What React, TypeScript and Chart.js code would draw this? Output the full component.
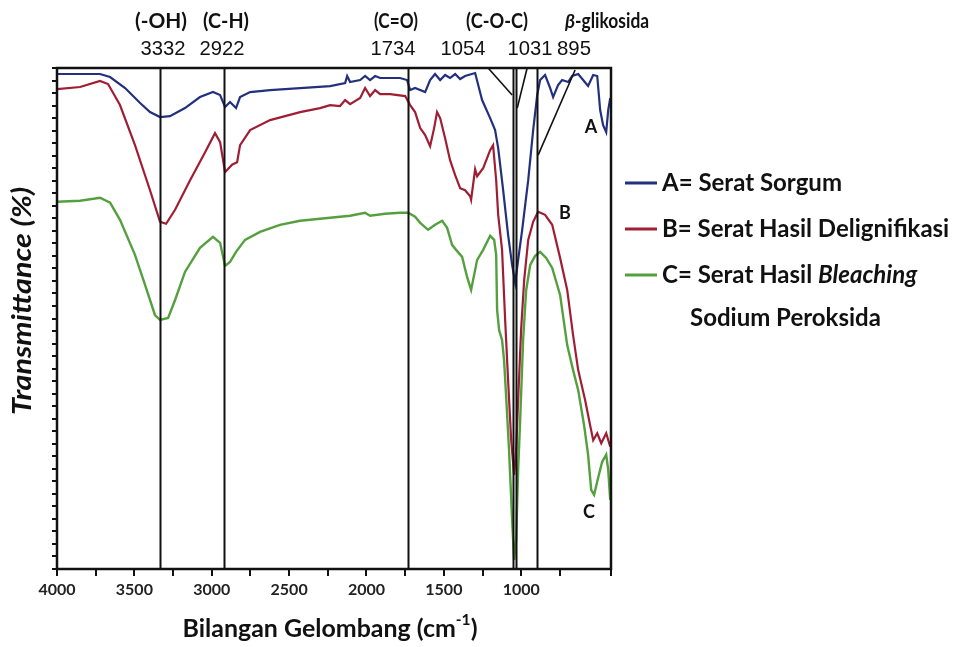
import React, { useEffect, useRef } from "react";
import { Chart, registerables } from "chart.js";

Chart.register(...registerables);

// ---- Data (wavenumber cm-1, transmittance in relative %) ----
const wnA = [4000, 3722, 3657, 3560, 3463, 3399, 3334, 3270, 3173, 3076, 2992, 2946, 2914, 2882, 2843, 2817, 2752, 2623, 2429, 2235, 2138, 2125, 2106, 2041, 2009, 1977, 1944, 1912, 1783, 1738, 1718, 1686, 1621, 1589, 1557, 1524, 1492, 1460, 1427, 1395, 1363, 1298, 1253, 1201, 1169, 1149, 1117, 1085, 1059, 1039, 1020, 994, 955, 923, 897, 878, 846, 813, 794, 762, 736, 697, 671, 632, 600, 568, 535, 509, 490, 471, 451, 438, 425];
const tA = [98.8, 98.8, 98.2, 96.0, 93.0, 91.2, 90.2, 90.4, 92.0, 94.2, 95.2, 94.6, 92.2, 93.2, 92.0, 94.2, 95.2, 95.6, 96.0, 96.4, 97.0, 98.4, 97.2, 97.6, 98.4, 97.6, 98.4, 98.0, 98.0, 97.6, 95.6, 96.0, 95.2, 97.6, 98.8, 97.6, 98.6, 98.0, 98.8, 97.8, 98.4, 99.0, 93.6, 90.0, 87.6, 84.0, 75.6, 66.7, 60.7, 57.1, 61.7, 67.7, 77.6, 87.6, 94.6, 97.6, 98.6, 96.0, 94.2, 96.6, 97.6, 97.2, 98.4, 98.8, 97.6, 96.4, 98.6, 98.4, 91.6, 88.6, 87.2, 91.6, 94.0];

const wnB = [4000, 3851, 3722, 3670, 3593, 3496, 3399, 3334, 3295, 3237, 3140, 3043, 2979, 2946, 2914, 2869, 2836, 2817, 2752, 2623, 2429, 2300, 2235, 2171, 2138, 2106, 2041, 2009, 1977, 1944, 1912, 1847, 1750, 1718, 1686, 1653, 1621, 1589, 1563, 1544, 1524, 1492, 1460, 1427, 1395, 1363, 1330, 1324, 1298, 1285, 1246, 1201, 1182, 1162, 1149, 1124, 1104, 1085, 1065, 1046, 1033, 1020, 1001, 981, 955, 923, 891, 846, 800, 749, 703, 665, 632, 587, 555, 535, 509, 483, 451, 425];
const tB = [95.8, 96.2, 97.4, 96.8, 92.6, 84.6, 75.6, 69.3, 68.9, 71.7, 77.6, 83.2, 87.0, 85.2, 79.2, 80.7, 81.2, 84.6, 87.6, 89.6, 91.2, 92.0, 92.6, 92.4, 93.6, 92.8, 94.0, 96.0, 94.4, 95.6, 94.8, 94.8, 94.4, 92.6, 91.2, 88.0, 86.6, 84.4, 88.0, 91.2, 90.0, 86.0, 81.6, 78.6, 76.0, 75.6, 74.4, 73.7, 79.8, 78.4, 80.0, 83.6, 84.6, 77.6, 70.7, 63.7, 49.7, 37.7, 25.7, 18.8, 23.8, 33.7, 47.7, 57.7, 65.7, 69.3, 71.3, 70.7, 68.7, 62.1, 55.7, 46.7, 39.7, 33.7, 28.7, 25.7, 27.1, 25.1, 27.1, 24.4];

const wnC = [4000, 3851, 3722, 3657, 3593, 3496, 3431, 3367, 3334, 3282, 3237, 3173, 3076, 2992, 2946, 2914, 2882, 2843, 2785, 2688, 2559, 2429, 2235, 2106, 2009, 1977, 1880, 1783, 1731, 1686, 1653, 1602, 1557, 1511, 1479, 1447, 1421, 1382, 1350, 1324, 1285, 1246, 1201, 1175, 1162, 1156, 1143, 1124, 1111, 1098, 1079, 1059, 1046, 1033, 1020, 1007, 988, 968, 942, 910, 878, 839, 800, 749, 703, 665, 632, 594, 568, 548, 529, 503, 477, 451, 438, 425];
const tC = [73.3, 73.5, 74.1, 73.1, 69.7, 62.7, 56.7, 50.7, 49.7, 50.1, 53.7, 59.3, 64.1, 66.3, 65.1, 60.5, 61.3, 63.3, 65.7, 67.3, 68.7, 69.5, 70.1, 70.5, 71.1, 70.5, 70.9, 71.1, 71.1, 70.3, 69.1, 67.7, 68.7, 69.5, 68.1, 64.7, 63.7, 62.3, 58.3, 55.7, 61.7, 63.7, 66.5, 65.7, 62.7, 51.7, 47.7, 45.7, 41.7, 34.7, 23.8, 9.8, 1.8, 5.8, 19.8, 29.7, 45.7, 55.7, 60.7, 62.5, 63.3, 62.1, 60.1, 54.7, 44.7, 39.7, 35.7, 28.7, 22.8, 15.8, 14.8, 18.2, 21.4, 22.8, 19.8, 13.8];

const seriesNames = ["A= Serat Sorgum", "B= Serat Hasil Delignifikasi", "C= Serat Hasil "];
const seriesColors = ["#22307e", "#a01e34", "#55a03e"];
const seriesTags = ["A", "B", "C"];

// Marked absorption bands
const peakLines = [3332, 2922, 1734, 1054, 1031, 895];
const peakNumbers = ["3332", "2922", "1734", "1054", "1031", "895"];
const groupLabels = ["(-OH)", "(C-H)", "(C=O)", "(C-O-C)"];
// pointer lines: [wnFrom, tFrom, wnTo, tTo]
const pointerLines = [
  [1214, 100, 1059, 94.6],
  [962, 100, 1026, 92],
  [652, 99.6, 891, 82.6],
];

const X_MIN = 420;
const X_MAX = 4000;

function fitText(ctx: CanvasRenderingContext2D, text: string, x: number, y: number, font: string, width: number, align: "left" | "center") {
  ctx.save();
  ctx.font = font;
  const w = ctx.measureText(text).width;
  const s = width / w;
  ctx.translate(x, y);
  ctx.scale(s, 1);
  ctx.textAlign = align;
  ctx.textBaseline = "middle";
  ctx.fillText(text, 0, 0);
  ctx.restore();
}

export default function App() {
  const canvasRef = useRef<HTMLCanvasElement | null>(null);

  useEffect(() => {
    const canvas = canvasRef.current;
    if (!canvas) return;

    const toPts = (xs: number[], ys: number[]) => xs.map((x, i) => ({ x, y: ys[i] }));

    const overlay = {
      id: "overlay",
      afterDatasetsDraw(chart: any) {
        const { ctx, chartArea, scales } = chart;
        const xs = scales.x;
        const ys = scales.y;
        ctx.save();
        ctx.strokeStyle = "#111";
        ctx.lineWidth = 2;
        peakLines.forEach((w) => {
          const px = Math.round(xs.getPixelForValue(w)) + 0.5;
          ctx.beginPath();
          ctx.moveTo(px, chartArea.top);
          ctx.lineTo(px, chartArea.bottom);
          ctx.stroke();
        });
        ctx.lineWidth = 1.6;
        pointerLines.forEach(([w1, t1, w2, t2]) => {
          ctx.beginPath();
          ctx.moveTo(xs.getPixelForValue(w1), ys.getPixelForValue(t1));
          ctx.lineTo(xs.getPixelForValue(w2), ys.getPixelForValue(t2));
          ctx.stroke();
        });
        ctx.lineWidth = 2.5;
        ctx.strokeRect(chartArea.left, chartArea.top, chartArea.right - chartArea.left, chartArea.bottom - chartArea.top);
        ctx.restore();
      },
      afterDraw(chart: any) {
        const { ctx, chartArea } = chart;
        ctx.save();
        ctx.fillStyle = "#111";
        ctx.textBaseline = "middle";
        // group labels
        const gx = [161, 226, 396, 497];
        const gw = [52, 46, 44, 62];
        groupLabels.forEach((g, i) => fitText(ctx, g, gx[i], 22, "bold 20px Lato", gw[i], "center"));
        // beta-glikosida
        ctx.textAlign = "left";
        ctx.font = "italic bold 19px Lato";
        ctx.fillText("β", 565, 22);
        const bw = ctx.measureText("β").width;
        fitText(ctx, "-glikosida", 565 + bw, 22, "bold 20px Lato", 74, "left");
        // peak numbers
        const nx = [163, 222, 393, 463, 530, 574];
        peakNumbers.forEach((n, i) => fitText(ctx, n, nx[i], 49, "21px 'Liberation Sans'", n.length === 4 ? 45 : 34, "center"));
        // series tags
        ctx.textAlign = "center";
        ctx.font = "bold 18px Lato";
        ctx.fillText(seriesTags[0], 591, 127);
        ctx.fillText(seriesTags[1], 565, 213);
        ctx.fillText(seriesTags[2], 589, 512);
        // x axis title
        ctx.font = "bold 24px Lato";
        const xt = "Bilangan Gelombang (cm";
        const xtw = ctx.measureText(xt).width;
        ctx.font = "bold 15px Lato";
        const supw = ctx.measureText("-1").width;
        ctx.font = "bold 24px Lato";
        const pw = ctx.measureText(")").width;
        const natural = xtw + supw + pw;
        const target = 295;
        const s = target / natural;
        ctx.save();
        ctx.translate(330 - target / 2, 629);
        ctx.scale(s, 1);
        ctx.textAlign = "left";
        ctx.fillText(xt, 0, 0);
        ctx.font = "bold 15px Lato";
        ctx.fillText("-1", xtw, -9);
        ctx.font = "bold 24px Lato";
        ctx.fillText(")", xtw + supw, 0);
        ctx.restore();

        // y axis title
        ctx.save();
        ctx.translate(23, 301);
        ctx.rotate(-Math.PI / 2);
        fitText(ctx, "Transmittance (%)", 0, 0, "italic bold 26px Lato", 228, "center");
        ctx.restore();

        // legend
        const ly = [183, 229, 275];
        seriesNames.forEach((name, i) => {
          ctx.strokeStyle = seriesColors[i];
          ctx.lineWidth = 3;
          ctx.beginPath();
          ctx.moveTo(625, ly[i]);
          ctx.lineTo(657, ly[i]);
          ctx.stroke();
          ctx.fillStyle = "#111";
          ctx.font = "bold 24px Lato";
          ctx.textAlign = "left";
          ctx.fillText(name, 662, ly[i]);
          if (i === 2) {
            const w = ctx.measureText(name).width;
            ctx.font = "italic bold 24px Lato";
            ctx.fillText("Bleaching", 662 + w, ly[i]);
          }
        });
        ctx.font = "bold 24px Lato";
        ctx.fillText("Sodium Peroksida", 690, 318);
        ctx.restore();
      },
    };

    const chart = new Chart(canvas, {
      type: "line",
      data: {
        datasets: [
          { label: "A", data: toPts(wnA, tA), borderColor: seriesColors[0], borderWidth: 2.2, pointRadius: 0, tension: 0 },
          { label: "B", data: toPts(wnB, tB), borderColor: seriesColors[1], borderWidth: 2.2, pointRadius: 0, tension: 0 },
          { label: "C", data: toPts(wnC, tC), borderColor: seriesColors[2], borderWidth: 2.4, pointRadius: 0, tension: 0 },
        ],
      },
      options: {
        responsive: false,
        animation: false,
        devicePixelRatio: 1,
        layout: { padding: { top: 68, right: 351, left: 0, bottom: 0 } },
        plugins: { legend: { display: false }, tooltip: { enabled: false } },
        scales: {
          x: {
            type: "linear",
            reverse: true,
            min: X_MIN,
            max: X_MAX,
            afterFit: (s: any) => { s.height = 78; },
            border: { display: false },
            grid: { drawOnChartArea: false, drawTicks: true, tickLength: 7, color: "#111", lineWidth: 2 },
            ticks: {
              stepSize: 250,
              padding: 4,
              color: "#222",
              font: { family: "Lato", weight: "bold", size: 16 },
              callback: (v: any) => (Number(v) % 500 === 0 ? String(v) : ""),
              maxRotation: 0,
              autoSkip: false,
            },
          },
          y: {
            type: "linear",
            min: 0,
            max: 100,
            afterFit: (s: any) => { s.width = 57; },
            border: { display: false },
            grid: { drawOnChartArea: false, drawTicks: true, tickLength: 5, color: "#111", lineWidth: 2 },
            ticks: { stepSize: 2.5, display: false, autoSkip: false },
          },
        },
      },
      plugins: [overlay],
    } as any);

    return () => chart.destroy();
  }, []);

  return (
    <div style={{ position: "absolute", left: 0, top: 0, width: 962, height: 647, background: "#fff" }}>
      <canvas ref={canvasRef} width={962} height={647} style={{ display: "block" }} />
    </div>
  );
}
